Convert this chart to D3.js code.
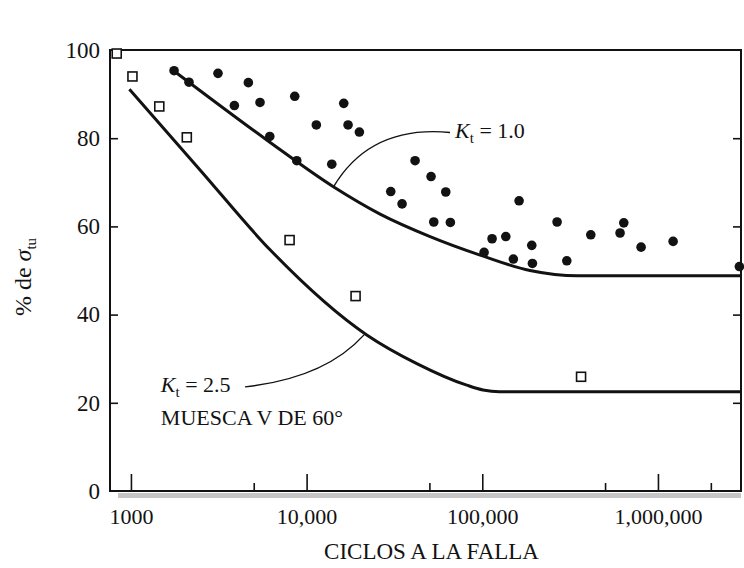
<!DOCTYPE html>
<html>
<head>
<meta charset="utf-8">
<script src="https://cdn.jsdelivr.net/npm/d3@7"></script>
<style>
  html, body { margin: 0; padding: 0; background: #fff; }
  svg { display: block; font-family: "Liberation Serif", "Times New Roman", serif; }
</style>
</head>
<body>
<svg id="chart" width="744" height="568"></svg>
<script>
// Notched specimens (V notch 60°, Kt = 2.5): open squares
const notchedCycles = [830, 1020, 1450, 2080, 8000, 19000, 365000];
const notchedPct    = [99.2, 94.0, 87.2, 80.2, 56.9, 44.2, 25.9];

// Unnotched specimens (Kt = 1.0): filled dots
const smoothCycles = [1760, 2140, 3130, 4660, 3880, 5430, 8560, 6170, 11360, 8790,
                      13910, 16270, 17220, 19970, 30130, 34950, 41440, 51100, 61970, 52950,
                      65820, 162000, 102400, 113700, 136100, 150300, 191300, 192900, 266600, 302800,
                      414700, 608600, 639000, 801700, 1220000, 2908000];
const smoothPct    = [95.3, 92.7, 94.7, 92.6, 87.4, 88.1, 89.5, 80.4, 83.0, 74.9,
                      74.1, 87.9, 83.0, 81.4, 67.9, 65.1, 74.9, 71.3, 67.8, 61.0,
                      60.9, 65.8, 54.1, 57.2, 57.7, 52.6, 55.7, 51.6, 61.0, 52.2,
                      58.1, 58.5, 60.8, 55.3, 56.6, 50.9];

// Mean fatigue curves
const kt1Cycles  = [1750, 5930, 14200, 26200, 50450, 97200, 187000, 350000, 3000000];
const kt1Pct     = [95.3, 79.6, 69.0, 62.8, 57.7, 53.5, 50.0, 48.8, 48.8];
const kt25Cycles = [980, 2474, 6195, 22000, 42400, 81600, 101000, 125000, 3000000];
const kt25Pct    = [91.1, 72.8, 54.7, 35.4, 28.9, 24.0, 22.9, 22.5, 22.5];

// Axis ticks
const xMajorTicks  = [1000, 10000, 100000, 1000000];
const xMajorLabels = ["1000", "10,000", "100,000", "1,000,000"];
const xMinorTicks  = [5000, 50000, 500000, 2000000];
const yTicks       = [0, 20, 40, 60, 80, 100];

const ink = "#121212";
const svg = d3.select("#chart");

const plotL = 110, plotR = 741, plotT = 50, plotB = 491;
const x = d3.scaleLog().domain([760, 2.97e6]).range([plotL, plotR]);
const y = d3.scaleLinear().domain([0, 100]).range([plotB, plotT]);

// light shadow strip under the horizontal axis
svg.append("rect")
  .attr("x", 118).attr("y", plotB + 2)
  .attr("width", plotR - 118).attr("height", 5)
  .attr("fill", "#c6c6c6");

// plot frame
svg.append("rect")
  .attr("x", plotL).attr("y", plotT)
  .attr("width", plotR - plotL).attr("height", plotB - plotT)
  .attr("fill", "none").attr("stroke", ink).attr("stroke-width", 2);

// left axis
const gy = svg.append("g").attr("transform", `translate(${plotL},0)`)
  .call(d3.axisLeft(y).tickValues(yTicks).tickSize(-8).tickPadding(10).tickFormat(d3.format("d")));
gy.select(".domain").remove();
gy.selectAll(".tick line").attr("stroke", ink).attr("stroke-width", 1.6)
  .filter(d => d === 0 || d === 100).remove();
gy.selectAll(".tick text").attr("fill", ink).style("font-size", "23px")
  .style("font-family", "'Liberation Serif','Times New Roman',serif");

// right axis (ticks only)
const gr = svg.append("g").attr("transform", `translate(${plotR},0)`)
  .call(d3.axisRight(y).tickValues([20, 40, 60, 80]).tickSize(-8).tickFormat(""));
gr.select(".domain").remove();
gr.selectAll(".tick line").attr("stroke", ink).attr("stroke-width", 1.6);

// bottom axis, decades
const gx = svg.append("g").attr("transform", `translate(0,${plotB})`)
  .call(d3.axisBottom(x).tickValues(xMajorTicks).tickSize(-17).tickPadding(17)
        .tickFormat((d, i) => xMajorLabels[i]));
gx.select(".domain").remove();
gx.selectAll(".tick line").attr("stroke", ink).attr("stroke-width", 1.6);
gx.selectAll(".tick text").attr("fill", ink).style("font-size", "22px")
  .style("font-family", "'Liberation Serif','Times New Roman',serif");

// bottom axis, intermediate ticks
const gxm = svg.append("g").attr("transform", `translate(0,${plotB})`)
  .call(d3.axisBottom(x).tickValues(xMinorTicks).tickSize(-8).tickFormat(""));
gxm.select(".domain").remove();
gxm.selectAll(".tick line").attr("stroke", ink).attr("stroke-width", 1.6);

// axis titles
svg.append("text")
  .attr("x", (plotL + plotR) / 2 + 6).attr("y", 559)
  .attr("text-anchor", "middle").attr("fill", ink)
  .style("font-size", "23px")
  .text("CICLOS A LA FALLA");

const yTitle = svg.append("text")
  .attr("transform", "translate(31,277) rotate(-90)")
  .attr("text-anchor", "middle").attr("fill", ink)
  .style("font-size", "24px");
yTitle.append("tspan").text("% de ");
yTitle.append("tspan").attr("font-style", "italic").text("σ");
yTitle.append("tspan").attr("dy", 5).style("font-size", "15px").text("tu");

// mean curves
const line = d3.line().x(d => x(d[0])).y(d => y(d[1])).curve(d3.curveMonotoneX);
const kt1Data = kt1Cycles.map((c, i) => [c, kt1Pct[i]]);
const kt25Data = kt25Cycles.map((c, i) => [c, kt25Pct[i]]);
svg.append("path").datum(kt1Data).attr("d", line)
  .attr("fill", "none").attr("stroke", ink).attr("stroke-width", 3);
svg.append("path").datum(kt25Data).attr("d", line)
  .attr("fill", "none").attr("stroke", ink).attr("stroke-width", 3);

// annotation leaders: [start, control, end] in data units
const leaderKt1  = [[14200, 68.9], [22970, 83.0], [65540, 81.3]];
const leaderKt25 = [[4462, 23.6], [12730, 25.6], [21230, 35.4]];
function leader(pts) {
  const p = d3.path();
  p.moveTo(x(pts[0][0]), y(pts[0][1]));
  p.quadraticCurveTo(x(pts[1][0]), y(pts[1][1]), x(pts[2][0]), y(pts[2][1]));
  return p.toString();
}
[leaderKt1, leaderKt25].forEach(pts => {
  svg.append("path").attr("d", leader(pts))
    .attr("fill", "none").attr("stroke", ink).attr("stroke-width", 1.4);
});

// annotation labels
function ktLabel(cx, cy, value) {
  const t = svg.append("text").attr("x", x(cx)).attr("y", y(cy))
    .attr("fill", ink).style("font-size", "22px");
  t.append("tspan").attr("font-style", "italic").text("K");
  t.append("tspan").attr("dy", 5).style("font-size", "15px").text("t");
  t.append("tspan").attr("dy", -5).text(" = " + value);
}
ktLabel(70000, 80, "1.0");
ktLabel(1480, 22.4, "2.5");
svg.append("text").attr("x", x(1480)).attr("y", y(15))
  .attr("fill", ink).style("font-size", "22px")
  .text("MUESCA V DE 60°");

// data points
const sq = 9;
svg.append("g").selectAll("rect")
  .data(notchedCycles.map((c, i) => [c, notchedPct[i]]))
  .join("rect")
  .attr("x", d => x(d[0]) - sq / 2).attr("y", d => y(d[1]) - sq / 2)
  .attr("width", sq).attr("height", sq)
  .attr("fill", "#fff").attr("stroke", ink).attr("stroke-width", 1.6);

svg.append("g").selectAll("circle")
  .data(smoothCycles.map((c, i) => [c, smoothPct[i]]))
  .join("circle")
  .attr("cx", d => x(d[0])).attr("cy", d => y(d[1]))
  .attr("r", 4.8).attr("fill", ink);
</script>
</body>
</html>
